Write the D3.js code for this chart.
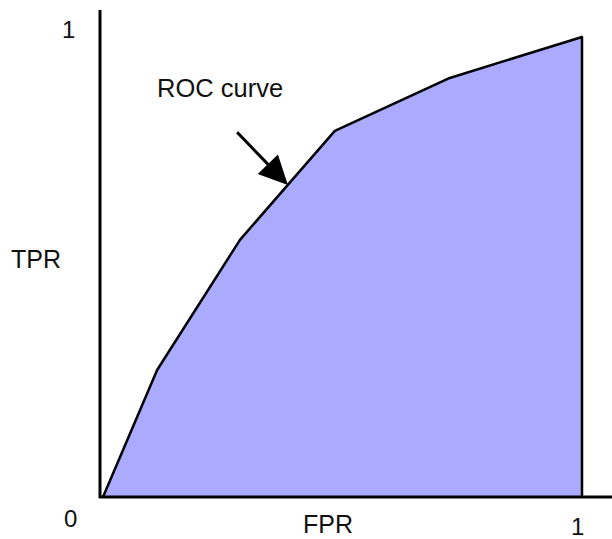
<!DOCTYPE html>
<html>
<head>
<meta charset="utf-8">
<script src="https://cdn.jsdelivr.net/npm/d3@7"></script>
<style>
    body { margin: 0; background: #fff; }
    text { font-family: "Liberation Sans", Arial, sans-serif; fill: #111; }
</style>
</head>
<body>
<svg id="chart" width="612" height="539"></svg>
<script>
// ROC points (FPR, TPR)
const fpr = [0, 0.113, 0.286, 0.484, 0.724, 1];
const tpr = [0, 0.276, 0.559, 0.796, 0.911, 1];
const tickLabels = ["0", "1"];
const xTitle = "FPR";
const yTitle = "TPR";
const note = "ROC curve";
// arrow from label down to the curve (data units)
const arrowFrom = [0.28, 0.793];
const arrowTo = [0.386, 0.678];

let svg = d3.select("#chart");

let x = d3.scaleLinear().domain([0, 1]).range([103, 582]);
let y = d3.scaleLinear().domain([0, 1]).range([497, 37]);

let pts = fpr.map((f, i) => [f, tpr[i]]);

// filled area under the curve
let area = d3.area()
    .x(d => x(d[0]))
    .y0(y(0))
    .y1(d => y(d[1]));
svg.append("path")
    .datum(pts)
    .attr("d", area)
    .attr("fill", "#aaaaff");

// curve + right edge
let line = d3.line().x(d => x(d[0])).y(d => y(d[1]));
svg.append("path")
    .datum(pts.concat([[1, 0]]))
    .attr("d", line)
    .attr("fill", "none")
    .attr("stroke", "#000")
    .attr("stroke-width", 2.5)
    .attr("stroke-linejoin", "round");

// axes (plain lines)
svg.append("line")
    .attr("x1", x(0) - 3).attr("x2", x(0) - 3)
    .attr("y1", 10).attr("y2", y(0) + 1)
    .attr("stroke", "#000").attr("stroke-width", 3);
svg.append("line")
    .attr("x1", x(0) - 4).attr("x2", 612)
    .attr("y1", y(0)).attr("y2", y(0))
    .attr("stroke", "#000").attr("stroke-width", 3);

// tick labels
svg.append("text").attr("x", 62).attr("y", y(1) + 1)
    .attr("font-size", 24).text(tickLabels[1]);
svg.append("text").attr("x", 64).attr("y", 527)
    .attr("font-size", 24).text(tickLabels[0]);
svg.append("text").attr("x", x(1) - 11).attr("y", 535)
    .attr("font-size", 24).text(tickLabels[1]);

// axis titles
svg.append("text").attr("x", 11).attr("y", 268)
    .attr("font-size", 25).text(yTitle);
svg.append("text").attr("x", 303).attr("y", 533)
    .attr("font-size", 25).text(xTitle);

// annotation
svg.append("text").attr("x", 157).attr("y", 97)
    .attr("font-size", 25.5).text(note);

let ax1 = x(arrowFrom[0]), ay1 = y(arrowFrom[1]);
let ax2 = x(arrowTo[0]), ay2 = y(arrowTo[1]);
let len = Math.hypot(ax2 - ax1, ay2 - ay1);
let ux = (ax2 - ax1) / len, uy = (ay2 - ay1) / len;
let headLen = 29, headW = 14;
let bx = ax2 - ux * headLen, by = ay2 - uy * headLen;
svg.append("line")
    .attr("x1", ax1).attr("y1", ay1)
    .attr("x2", bx + ux * 2).attr("y2", by + uy * 2)
    .attr("stroke", "#000").attr("stroke-width", 3);
svg.append("path")
    .attr("d", d3.line()([
        [ax2, ay2],
        [bx - uy * headW, by + ux * headW],
        [bx + uy * headW, by - ux * headW]
    ]) + "Z")
    .attr("fill", "#000");
</script>
</body>
</html>
